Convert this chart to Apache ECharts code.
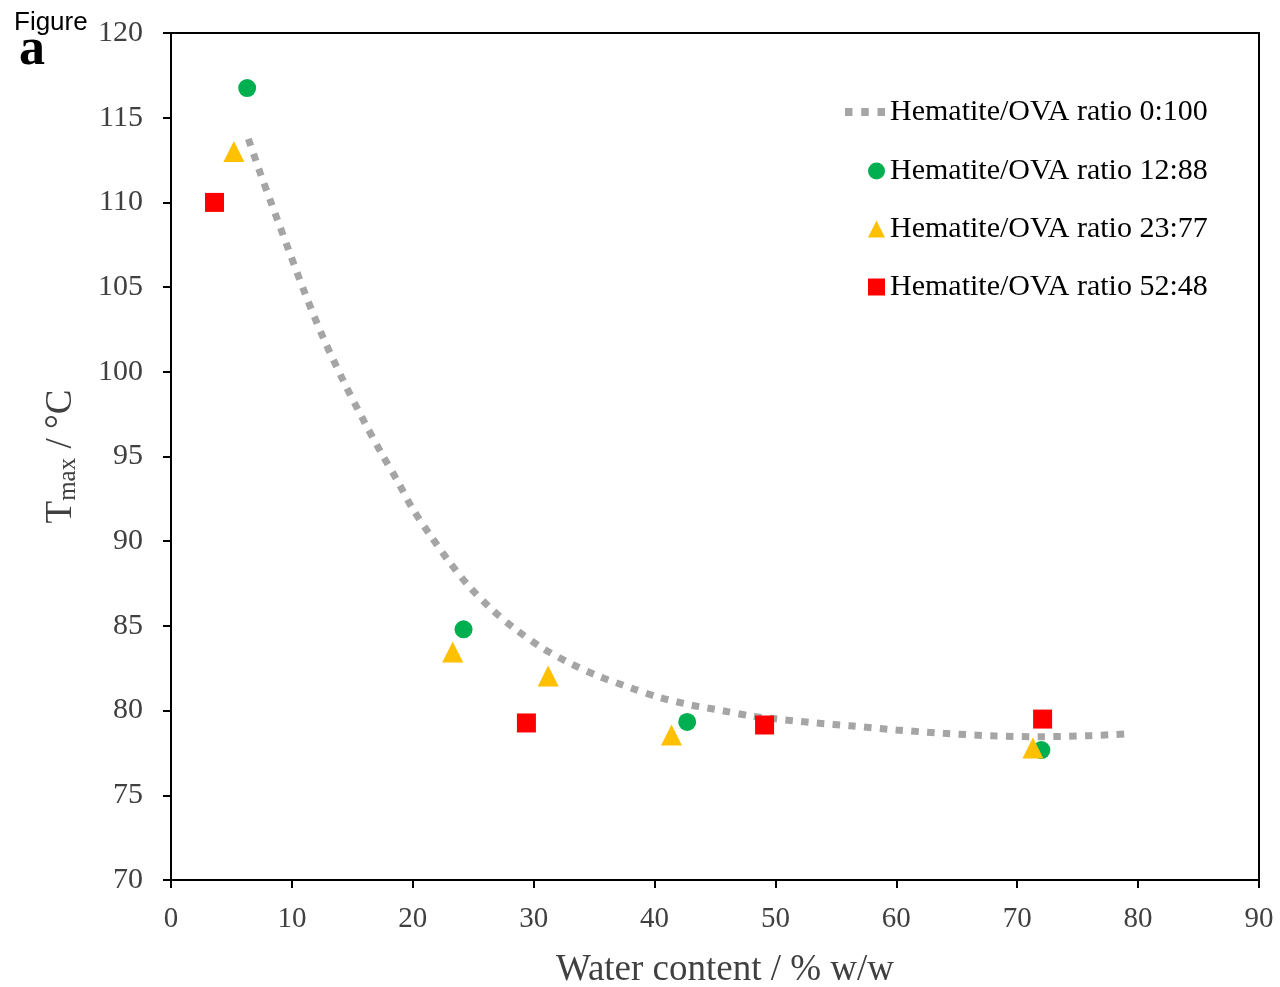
<!DOCTYPE html>
<html>
<head>
<meta charset="utf-8">
<script src="https://cdn.jsdelivr.net/npm/echarts@6/dist/echarts.min.js"></script>
<style>
  html, body { margin: 0; padding: 0; background: #fff; }
  #main { width: 1280px; height: 987px; }
</style>
</head>
<body>
<div id="main"></div>
<script>
// trend line (0:100)
var fitX = [6.4, 7.4, 8.3, 9.7, 11.1, 12.6, 14.3, 16.1, 17.4, 18.7, 20.0, 21.4, 23.0, 24.7, 26.5, 28.5, 30.7, 33.0, 35.3, 38.0, 40.3, 43.0, 45.6, 48.0, 50.8, 53.4, 56.2, 60.0, 63.9, 68.0, 71.9, 76.0, 78.9];
var fitY = [113.75, 111.7, 109.95, 107.25, 104.6, 102.0, 99.4, 96.9, 95.2, 93.6, 91.9, 90.4, 88.8, 87.3, 86.0, 84.8, 83.7, 82.8, 82.05, 81.35, 80.8, 80.33, 80.0, 79.68, 79.45, 79.27, 79.1, 78.86, 78.66, 78.51, 78.46, 78.52, 78.62];

var greenX = [6.3, 24.2, 42.7, 72.0];
var greenY = [116.75, 84.8, 79.33, 77.67];
var yellowX = [5.2, 23.3, 31.2, 41.4, 71.3];
var yellowY = [113.0, 83.46, 82.04, 78.56, 77.79];
var redX = [3.6, 29.4, 49.1, 72.1];
var redY = [110.0, 79.27, 79.15, 79.5];

var seriesNames = ['Hematite/OVA ratio 0:100', 'Hematite/OVA ratio 12:88', 'Hematite/OVA ratio 23:77', 'Hematite/OVA ratio 52:48'];

function pairs(xs, ys) {
  return xs.map(function (x, i) { return [x, ys[i]]; });
}

var serif = '"Liberation Serif", "Times New Roman", serif';
var dotsIcon = 'path://M0,0h7.5v8h-7.5z M16.3,0h7.5v8h-7.5z M32.6,0h7.5v8h-7.5z';

var chart = echarts.init(document.getElementById('main'));

var option = {
  backgroundColor: '#fff',
  animation: false,
  grid: {
    left: 171, right: 21, top: 33, bottom: 107,
    outerBoundsMode: 'none',
    show: true, borderColor: '#000', borderWidth: 2
  },
  legend: [{
    data: [{ name: seriesNames[0], icon: dotsIcon, itemStyle: { color: '#A5A5A5', borderWidth: 0 } }],
    left: 840, top: 89,
    orient: 'vertical',
    itemWidth: 40, itemHeight: 8,
    textStyle: { fontFamily: serif, fontSize: 30, color: '#000', lineHeight: 36 }
  }, {
    data: seriesNames.slice(1),
    left: 863, top: 148,
    orient: 'vertical',
    itemWidth: 17, itemHeight: 17,
    itemGap: 22,
    textStyle: { fontFamily: serif, fontSize: 30, color: '#000', lineHeight: 36 }
  }],
  xAxis: {
    type: 'value', min: 0, max: 90, interval: 10,
    name: 'Water content / % w/w',
    nameLocation: 'middle', nameGap: 72,
    nameTextStyle: { fontFamily: serif, fontSize: 37, color: '#404040', padding: [0, 0, 0, 20] },
    axisLine: { onZero: false, lineStyle: { color: '#000', width: 2 } },
    axisTick: { show: true, length: 8, inside: false, lineStyle: { color: '#000', width: 2 } },
    axisLabel: { fontFamily: serif, fontSize: 29, color: '#404040', margin: 25 },
    splitLine: { show: false }
  },
  yAxis: {
    type: 'value', min: 70, max: 120, interval: 5,
    name: 'T{sub|max} / °C',
    nameLocation: 'middle', nameGap: 90,
    nameTextStyle: {
      fontFamily: serif, fontSize: 37, color: '#404040',
      rich: { sub: { fontFamily: serif, fontSize: 25, color: '#404040', verticalAlign: 'bottom', padding: [14, 0, 0, 0] } }
    },
    axisLine: { onZero: false, lineStyle: { color: '#000', width: 2 } },
    axisTick: { show: true, length: 8, inside: false, lineStyle: { color: '#000', width: 2 } },
    axisLabel: { fontFamily: serif, fontSize: 30, color: '#404040', margin: 28 },
    splitLine: { show: false }
  },
  series: [{
    name: seriesNames[0],
    type: 'line',
    data: pairs(fitX, fitY),
    symbol: 'none',
    smooth: 0.3,
    z: 1,
    color: '#A5A5A5',
    lineStyle: { color: '#A5A5A5', width: 7, type: [7.5, 8.3], cap: 'butt' }
  }, {
    name: seriesNames[1],
    type: 'scatter',
    data: pairs(greenX, greenY),
    symbol: 'circle', symbolSize: 18,
    z: 3,
    itemStyle: { color: '#00B050', opacity: 1 }
  }, {
    name: seriesNames[2],
    type: 'scatter',
    data: pairs(yellowX, yellowY),
    symbol: 'triangle', symbolSize: 21,
    z: 4,
    itemStyle: { color: '#FFC000', opacity: 1 }
  }, {
    name: seriesNames[3],
    type: 'scatter',
    data: pairs(redX, redY),
    symbol: 'rect', symbolSize: 19,
    z: 5,
    itemStyle: { color: '#FF0000', opacity: 1 }
  }],
  graphic: [{
    type: 'text', left: 14, top: 10,
    style: { text: 'Figure', font: '26px "Liberation Sans", Arial, sans-serif', fill: '#000' }
  }, {
    type: 'text', left: 19, top: 25,
    style: { text: 'a', font: 'bold 52px "Liberation Serif", "Times New Roman", serif', fill: '#000' }
  }]
};

chart.setOption(option);
</script>
</body>
</html>
